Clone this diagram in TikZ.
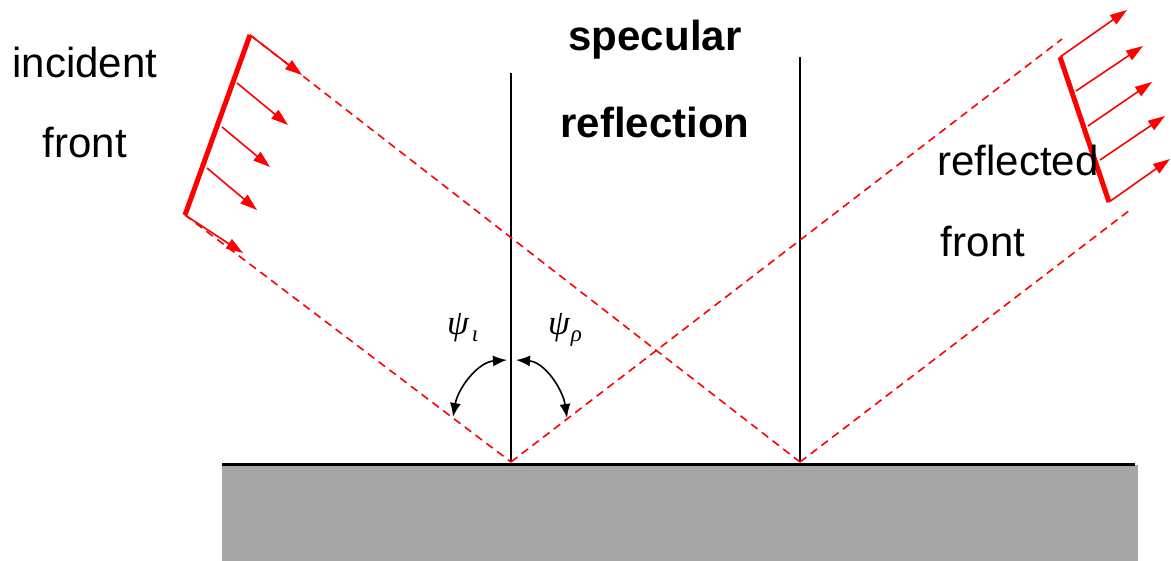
\documentclass[tikz,border=0pt]{standalone}
\usepackage{fontspec}
\setmainfont{Liberation Sans}
\newfontfamily\grkfont{Liberation Serif}
\usetikzlibrary{arrows.meta}
\begin{document}
\begin{tikzpicture}[x=1pt,y=-1pt,
  ray/.style={red, dashed, dash pattern=on 8pt off 5.5pt, line width=1.6pt},
  frontline/.style={red, line width=5pt},
  wavearrow/.style={red, line width=1.6pt, -{Triangle[length=17pt,width=11pt]}},
  normal/.style={black, line width=1.3pt},
  anglearrow/.style={black, line width=1.6pt, {Latex[length=14pt,width=11pt]}-{Latex[length=14pt,width=11pt]}},
  lbl/.style={font=\fontsize{42}{50}\selectfont, inner sep=0pt},
  blbl/.style={font=\fontsize{42}{50}\selectfont\bfseries, inner sep=0pt},
  greek/.style={font=\grkfont\itshape\fontsize{35}{38}\selectfont, inner sep=0pt}]
\useasboundingbox (0,0) rectangle (1171,561);
% ground
\fill[fill={rgb,255:red,166;green,166;blue,166}] (222,465) rectangle (1138,561);
\coordinate (gl) at (222,464);
\coordinate (gr) at (1135,464);
\draw[line width=3pt] (gl) -- (gr);
% reflection points
\coordinate (P1) at (511,462);
\coordinate (P2) at (800,462);
% normals
\coordinate (N1) at (511,73);
\coordinate (N2) at (800,57);
\draw[normal] (P1) -- (N1);
\draw[normal] (P2) -- (N2);
% incident front
\coordinate (A1) at (250,35);
\coordinate (A2) at (237,83);
\coordinate (A3) at (222,127);
\coordinate (A4) at (207,168);
\coordinate (A5) at (185,215);
\coordinate (T1) at (302,75);
\coordinate (T2) at (288,125);
\coordinate (T3) at (270,167);
\coordinate (T4) at (257,210);
\coordinate (T5) at (243,253);
\draw[ray] (A1) -- (P2);
\draw[ray] (A5) -- (P1);
\draw[frontline] (A1) -- (A5);
\foreach \i in {1,...,5} \draw[wavearrow] (A\i) -- (T\i);
% reflected rays
\coordinate (R1) at (1062,39);
\coordinate (R2) at (1130,210);
\draw[ray] (P1) -- (R1);
\draw[ray] (P2) -- (R2);
% reflected front
\coordinate (B1) at (1060,57);
\coordinate (B2) at (1076,91);
\coordinate (B3) at (1088,126);
\coordinate (B4) at (1100,160);
\coordinate (B5) at (1109,202);
\coordinate (U1) at (1127,10);
\coordinate (U2) at (1143,46);
\coordinate (U3) at (1152,82);
\coordinate (U4) at (1165,116);
\coordinate (U5) at (1170,159);
\draw[frontline] (B1) -- (B5);
\foreach \i in {1,...,5} \draw[wavearrow] (B\i) -- (U\i);
% angle arrows
\coordinate (L0) at (507,360);
\coordinate (L1) at (453,417);
\coordinate (M0) at (516,360);
\coordinate (M1) at (567,418);
\draw[anglearrow] (L0) .. controls (478,362) and (458,388) .. (L1);
\draw[anglearrow] (M0) .. controls (545,362) and (563,390) .. (M1);
\node[greek, anchor=base west] (psii) at (447,335) {ψ\hspace{3pt}\raisebox{-7pt}{\fontsize{23}{24}\selectfont ι}};
\node[greek, anchor=base west] (psir) at (548,335) {ψ\hspace{1pt}\raisebox{-7pt}{\fontsize{23}{24}\selectfont ρ}};
% labels
\node[lbl] (inc) at (85,62) {incident};
\node[lbl] (incf) at (85,143) {front};
\node[blbl] (spec) at (655,40) {specular};
\node[blbl] (refl) at (655,122) {reflection};
\node[lbl] (rfl) at (1018,160) {reflected};
\node[lbl] (rflf) at (983,242) {front};
\end{tikzpicture}
\end{document}
